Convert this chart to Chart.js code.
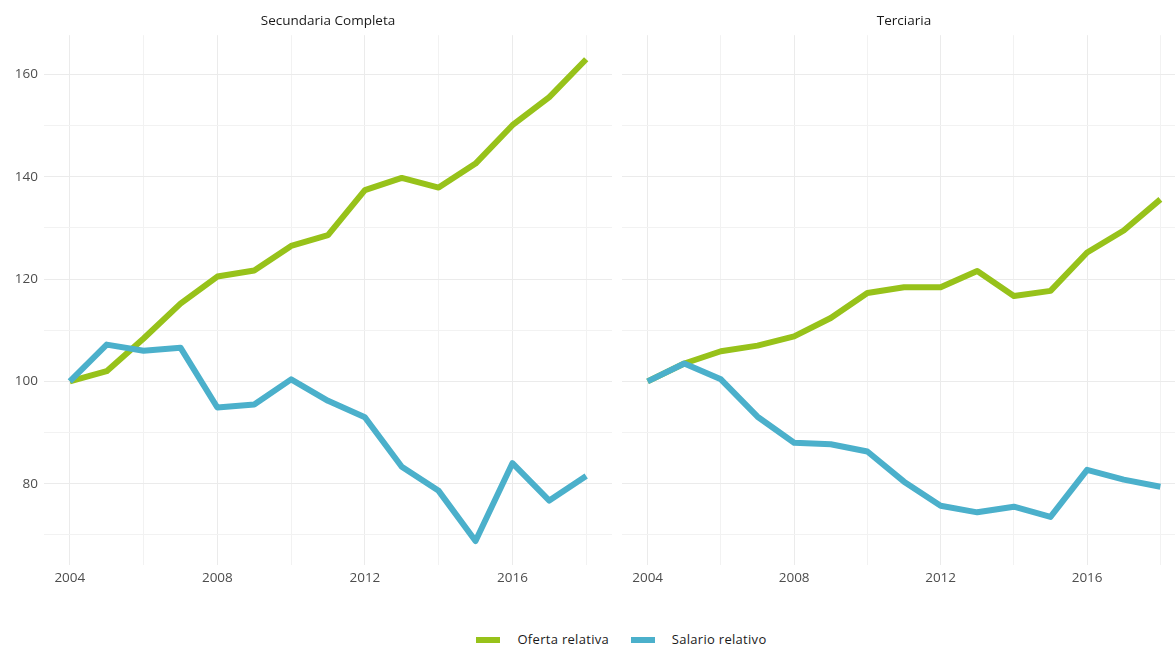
<!DOCTYPE html>
<html>
<head>
<meta charset="utf-8">
<script src="https://cdn.jsdelivr.net/npm/chart.js@4.4.1/dist/chart.umd.min.js"></script>
<style>
  html, body { margin: 0; padding: 0; background: #fff; overflow: hidden; }
  body { width: 1175px; height: 646px; position: relative; font-family: "Open Sans", sans-serif; }
  .panel { position: absolute; top: 0; height: 600px; }
  #legend { position: absolute; top: 630px; left: 0; width: 1175px; padding-left: 68px; box-sizing: border-box; text-align: center; font-size: 13px; letter-spacing: 0.3px; color: #1a1a1a; }
  #legend span.item { display: inline-block; margin: 0 9px; }
  #legend span.key { display: inline-block; width: 24px; height: 6px; vertical-align: middle; margin-right: 17px; position: relative; top: -1px; }
</style>
</head>
<body>
<div class="panel" style="left:0;width:612px"><canvas id="chart-sec"></canvas></div>
<div class="panel" style="left:622px;width:564px"><canvas id="chart-ter"></canvas></div>
<div id="legend">
  <span class="item"><span class="key" style="background:#97c21a"></span>Oferta relativa</span>
  <span class="item"><span class="key" style="background:#4bb0cb"></span>Salario relativo</span>
</div>
<script>
const years = [2004, 2005, 2006, 2007, 2008, 2009, 2010, 2011, 2012, 2013, 2014, 2015, 2016, 2017, 2018];

const secOferta = [100, 102, 108.4, 115.2, 120.5, 121.7, 126.5, 128.6, 137.4, 139.8, 137.9, 142.6, 150.1, 155.6, 163];
const secSalario = [100, 107.2, 106, 106.6, 94.9, 95.5, 100.4, 96.2, 93, 83.3, 78.6, 68.8, 84, 76.7, 81.5];

const terOferta = [100, 103.5, 105.9, 107, 108.8, 112.4, 117.3, 118.4, 118.4, 121.6, 116.7, 117.7, 125.2, 129.5, 135.6];
const terSalario = [100, 103.5, 100.4, 93.1, 88, 87.7, 86.3, 80.4, 75.7, 74.4, 75.5, 73.5, 82.7, 80.8, 79.4];

const xTicks = [2004, 2006, 2008, 2010, 2012, 2014, 2016, 2018];
const xLabels = [2004, 2008, 2012, 2016];
const yTicks = [70, 80, 90, 100, 110, 120, 130, 140, 150, 160];
const yLabels = [80, 100, 120, 140, 160];

const green = "#97c21a";
const blue = "#4bb0cb";

function pts(vals) {
  return years.map((yr, i) => ({ x: yr, y: vals[i] }));
}

function makePanel(id, title, oferta, salario, showY) {
  const ctx = document.getElementById(id).getContext("2d");
  const lineStyle = {
    borderWidth: 6,
    tension: 0,
    pointRadius: 0,
    borderCapStyle: "butt",
    borderJoinStyle: "round",
    fill: false,
  };
  new Chart(ctx, {
    type: "line",
    data: {
      datasets: [
        { label: "Salario relativo", data: pts(salario), borderColor: blue, ...lineStyle },
        { label: "Oferta relativa", data: pts(oferta), borderColor: green, ...lineStyle },
      ],
    },
    options: {
      responsive: true,
      maintainAspectRatio: false,
      animation: false,
      layout: { padding: 0 },
      plugins: {
        legend: { display: false },
        tooltip: { enabled: false },
        title: {
          display: true,
          text: title,
          fullSize: false,
          color: "#1a1a1a",
          font: { family: "Open Sans", size: 13.5, weight: "normal", lineHeight: 1.2 },
          padding: { top: 13, bottom: 6 },
        },
      },
      scales: {
        x: {
          type: "linear",
          min: 2003.3,
          max: 2018.7,
          afterBuildTicks: (scale) => {
            scale.ticks = xTicks.map((v) => ({ value: v }));
          },
          afterFit: (scale) => {
            scale.height = 35;
          },
          grid: {
            drawTicks: false,
            color: (c) => (c.tick && xLabels.includes(c.tick.value) ? "#ebebeb" : "#f2f2f2"),
            lineWidth: 1,
          },
          border: { display: false },
          ticks: {
            padding: 5,
            autoSkip: false,
            maxRotation: 0,
            color: "#4d4d4d",
            font: { family: "Open Sans", size: 13.5 },
            callback: (v) => (xLabels.includes(v) ? String(v) : ""),
          },
        },
        y: {
          min: 64.1,
          max: 167.7,
          afterBuildTicks: (scale) => {
            scale.ticks = yTicks.map((v) => ({ value: v }));
          },
          afterFit: (scale) => {
            scale.width = showY ? 44 : 0;
          },
          grid: {
            drawTicks: false,
            color: (c) => (c.tick && yLabels.includes(c.tick.value) ? "#ebebeb" : "#f2f2f2"),
            lineWidth: 1,
          },
          border: { display: false },
          ticks: {
            display: showY,
            padding: 6,
            color: "#4d4d4d",
            font: { family: "Open Sans", size: 13.5 },
            callback: (v) => (yLabels.includes(v) ? String(v) : ""),
          },
        },
      },
    },
  });
}

document.addEventListener("DOMContentLoaded", () => {
  makePanel("chart-sec", "Secundaria Completa", secOferta, secSalario, true);
  makePanel("chart-ter", "Terciaria", terOferta, terSalario, false);
});
</script>
</body>
</html>
